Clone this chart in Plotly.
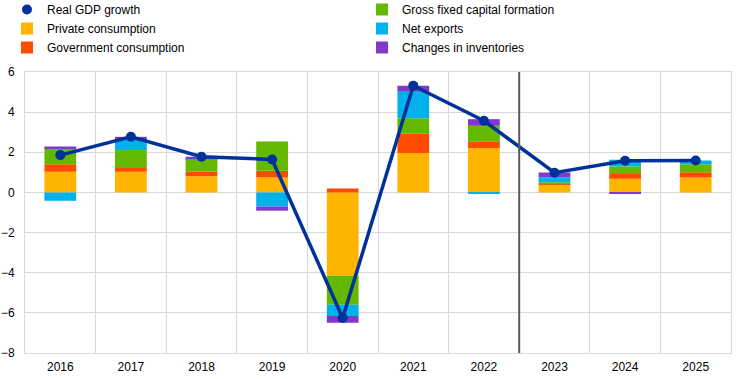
import plotly.graph_objects as go

years = ["2016", "2017", "2018", "2019", "2020", "2021", "2022", "2023", "2024", "2025"]
gdp = [1.86, 2.77, 1.78, 1.64, -6.26, 5.32, 3.57, 0.98, 1.58, 1.59]
private_cons = [1.03, 1.03, 0.80, 0.75, -4.15, 1.96, 2.21, 0.38, 0.68, 0.75]
gov_cons = [0.38, 0.23, 0.23, 0.33, 0.20, 0.96, 0.31, 0.03, 0.28, 0.26]
gfcf = [0.79, 0.85, 0.63, 1.46, -1.45, 0.78, 0.80, 0.10, 0.34, 0.40]
net_exports = [-0.41, 0.60, 0.05, -0.70, -0.56, 1.32, -0.05, 0.25, 0.33, 0.18]
inventories = [0.09, 0.06, 0.07, -0.21, -0.33, 0.30, 0.33, 0.23, -0.05, 0.00]
projection_start = "2023"

bar_series = [
    ("Private consumption", private_cons, "#FFB400", 3),
    ("Government consumption", gov_cons, "#FF4B00", 5),
    ("Gross fixed capital formation", gfcf, "#65B800", 2),
    ("Net exports", net_exports, "#00B1EA", 4),
    ("Changes in inventories", inventories, "#8139C8", 6),
]

fig = go.Figure()
for name, vals, col, rank in bar_series:
    fig.add_trace(go.Bar(
        x=years, y=vals, name=name, marker_color=col,
        marker_line_width=0, legendrank=rank,
    ))

fig.add_trace(go.Scatter(
    x=years, y=gdp, mode="lines", line=dict(color="#003299", width=3.5),
    showlegend=False, hoverinfo="skip",
))
fig.add_trace(go.Scatter(
    x=years, y=gdp, mode="markers", name="Real GDP growth",
    marker=dict(color="#003299", size=10), legendrank=1,
))

sep = years.index(projection_start) - 0.5
fig.add_shape(type="line", xref="x", yref="paper", x0=sep, x1=sep, y0=0, y1=1,
              line=dict(color="#595959", width=2))

fig.update_layout(
    width=736, height=379,
    margin=dict(l=25, r=5, t=72, b=26, autoexpand=False),
    paper_bgcolor="white", plot_bgcolor="white",
    barmode="relative", bargap=0.55,
    font=dict(family="Liberation Sans, Arial, sans-serif", size=12, color="#000000"),
    legend=dict(
        orientation="h", xref="paper", yref="paper",
        x=-18 / 706, xanchor="left", y=1 + 77 / 281, yanchor="top",
        entrywidth=310, entrywidthmode="pixels",
        font=dict(size=12), itemclick=False, traceorder="normal",
        bgcolor="rgba(0,0,0,0)",
    ),
    xaxis=dict(
        type="category", tickson="boundaries", showgrid=True,
        gridcolor="#d9d9d9", gridwidth=1, ticks="", showline=True,
        linecolor="#d9d9d9", mirror=True, range=[-0.5, 9.5], automargin=False,
        ticklabelstandoff=3,
    ),
    yaxis=dict(
        range=[-8, 6], dtick=2, showgrid=True, gridcolor="#d9d9d9",
        gridwidth=1, zeroline=True, zerolinecolor="#d9d9d9", zerolinewidth=1,
        showline=True, linecolor="#d9d9d9", mirror=True, ticks="",
        ticklabelstandoff=7, automargin=False,
    ),
)

fig.write_html("out.html", config={"displayModeBar": False},
               post_script="document.body.style.margin='0';")
